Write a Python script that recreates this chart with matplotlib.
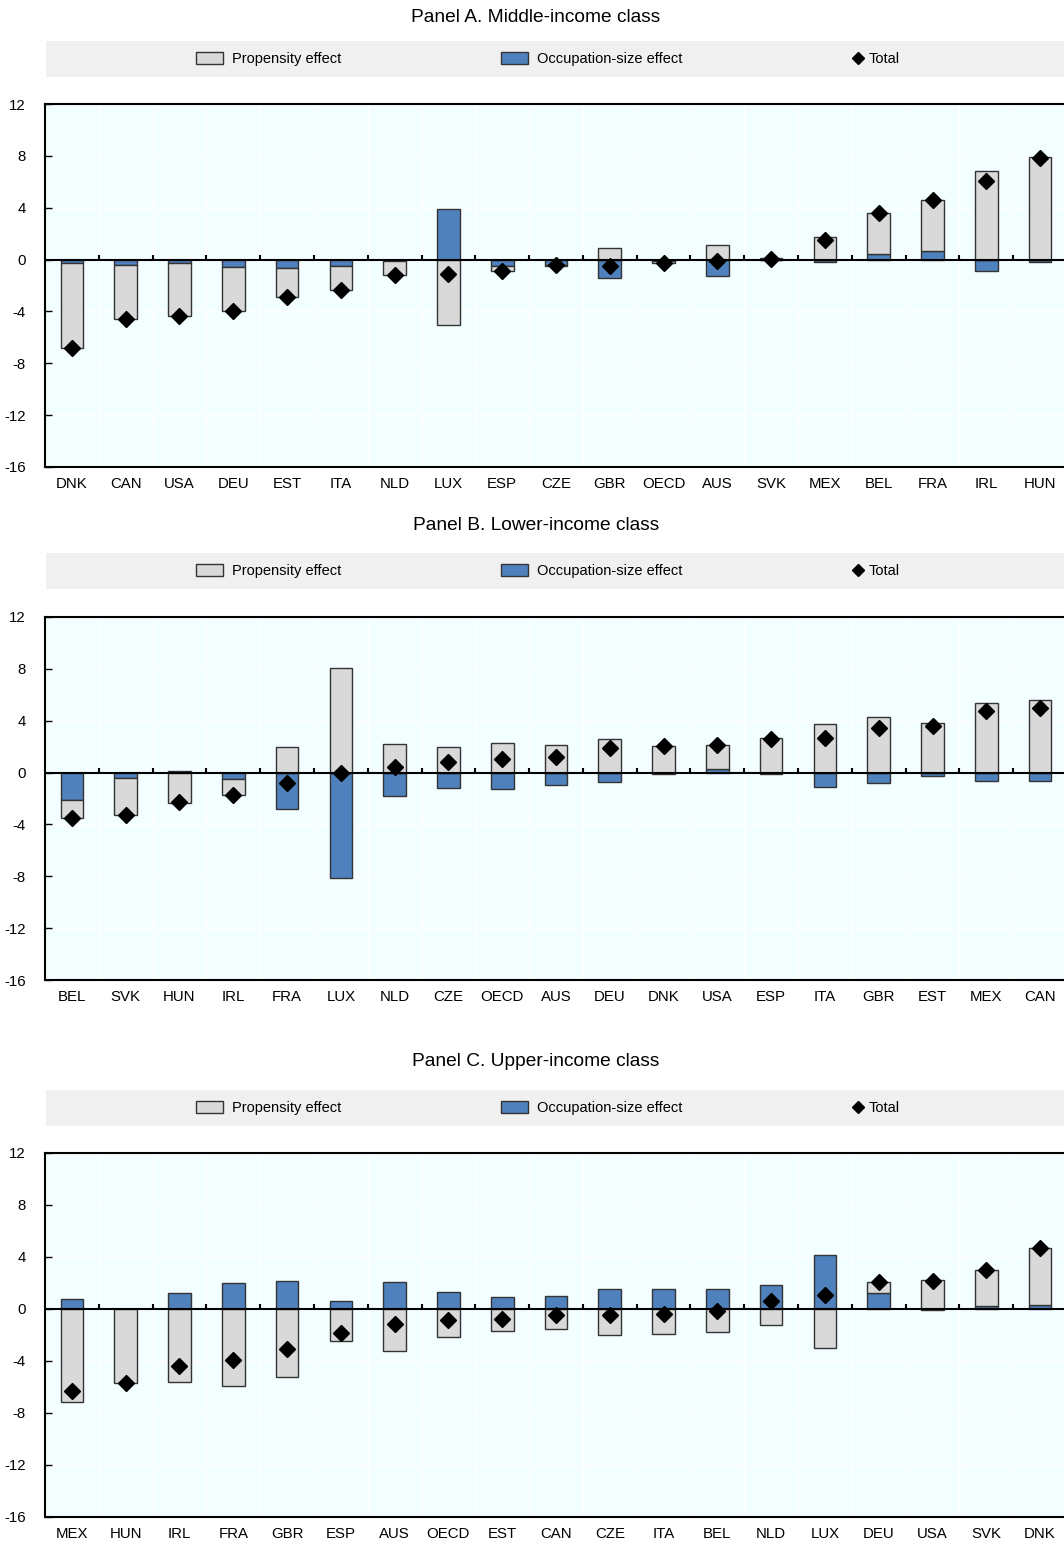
import matplotlib
matplotlib.use("Agg")
import matplotlib.pyplot as plt
from matplotlib.patches import Patch, Rectangle
from matplotlib.lines import Line2D
import numpy as np

plt.rcParams['font.family'] = ['Liberation Sans', 'DejaVu Sans']

# ---------------- Data ----------------
titles = ["Panel A. Middle-income class", "Panel B. Lower-income class", "Panel C. Upper-income class"]

cats_a = ["DNK", "CAN", "USA", "DEU", "EST", "ITA", "NLD", "LUX", "ESP", "CZE",
          "GBR", "OECD", "AUS", "SVK", "MEX", "BEL", "FRA", "IRL", "HUN"]
prop_a = [-6.55, -4.10, -4.03, -3.45, -2.20, -1.88, -1.06, -5.08, -0.35, -0.02,
          0.92, -0.20, 1.10, -0.05, 1.72, 3.10, 3.95, 6.82, 7.90]
occ_a = [-0.25, -0.45, -0.30, -0.55, -0.67, -0.50, -0.12, 3.92, -0.50, -0.45,
         -1.41, -0.08, -1.23, 0.15, -0.18, 0.46, 0.67, -0.85, -0.15]
tot_a = [-6.80, -4.55, -4.33, -4.00, -2.87, -2.38, -1.18, -1.13, -0.85, -0.45,
         -0.46, -0.28, -0.08, 0.08, 1.51, 3.56, 4.62, 6.03, 7.80]

cats_b = ["BEL", "SVK", "HUN", "IRL", "FRA", "LUX", "NLD", "CZE", "OECD", "AUS",
          "DEU", "DNK", "USA", "ESP", "ITA", "GBR", "EST", "MEX", "CAN"]
prop_b = [-1.37, -2.83, -2.34, -1.21, 1.95, 8.07, 2.21, 2.00, 2.26, 2.10,
          2.62, 2.08, 1.82, 2.70, 3.75, 4.27, 3.86, 5.35, 5.63]
occ_b = [-2.10, -0.41, 0.10, -0.49, -2.78, -8.10, -1.80, -1.18, -1.23, -0.95,
         -0.72, -0.10, 0.31, -0.10, -1.10, -0.82, -0.28, -0.67, -0.62]
tot_b = [-3.50, -3.24, -2.24, -1.72, -0.80, -0.05, 0.44, 0.85, 1.03, 1.18,
         1.90, 2.05, 2.13, 2.60, 2.70, 3.44, 3.57, 4.73, 5.01]

cats_c = ["MEX", "HUN", "IRL", "FRA", "GBR", "ESP", "AUS", "OECD", "EST", "CAN",
          "CZE", "ITA", "BEL", "NLD", "LUX", "DEU", "USA", "SVK", "DNK"]
prop_c = [-7.15, -5.69, -5.64, -5.92, -5.26, -2.44, -3.23, -2.13, -1.67, -1.51,
          -2.03, -1.90, -1.74, -1.20, -3.03, 0.87, 2.20, 2.83, 4.39]
occ_c = [0.77, -0.03, 1.26, 2.03, 2.15, 0.62, 2.10, 1.28, 0.92, 1.00,
         1.56, 1.51, 1.56, 1.87, 4.13, 1.20, -0.08, 0.20, 0.30]
tot_c = [-6.33, -5.67, -4.38, -3.90, -3.10, -1.82, -1.15, -0.85, -0.77, -0.49,
         -0.46, -0.38, -0.15, 0.64, 1.10, 2.08, 2.15, 3.03, 4.72]

yticks = [12, 8, 4, 0, -4, -8, -12, -16]
legend_labels = ["Propensity effect", "Occupation-size effect", "Total"]

panels = [(cats_a, prop_a, occ_a, tot_a),
          (cats_b, prop_b, occ_b, tot_b),
          (cats_c, prop_c, occ_c, tot_c)]

# ---------------- Style ----------------
GREY = "#D9D9D9"
BLUE = "#4F81BD"
EDGE = "#333333"
BG = "#F2FEFF"
BAND = "#F0F0F0"
TICK_FS = 10.8
LEG_FS = 10.5
TITLE_FS = 13.8

W, H = 1064, 1545
fig = plt.figure(figsize=(W / 100, H / 100), dpi=100)

# pixel layout
axes_px = [(104, 467), (617, 980), (1153, 1517)]
title_px = [18, 525, 1062]
band_px = [(41, 77), (553, 589), (1090, 1126)]
left_px, right_px = 45, 1067
leg_x_px = [196, 501, 854]

for (cats, prop, occ, tot), (top, bot), ty, (bt, bb), title in zip(
        panels, axes_px, title_px, band_px, titles):
    ax = fig.add_axes([left_px / W, 1 - bot / H, (right_px - left_px) / W, (bot - top) / H])
    ax.set_facecolor(BG)
    x = np.arange(len(cats))
    prop = np.array(prop)
    occ = np.array(occ)
    tot = np.array(tot)

    # stacking: occupation first from zero, propensity stacked on same-sign side
    occ_base = np.zeros_like(occ)
    prop_base = np.where(np.sign(prop) == np.sign(occ), occ, 0.0)

    bw = 0.42
    ax.bar(x, occ, bw, bottom=occ_base, color=BLUE, edgecolor=EDGE, linewidth=1.0, zorder=3)
    ax.bar(x, prop, bw, bottom=prop_base, color=GREY, edgecolor=EDGE, linewidth=1.0, zorder=3)
    ax.plot(x, tot, linestyle="none", marker="D", markersize=8.5, color="black", zorder=5)

    ax.set_xlim(-0.5, len(cats) - 0.5)
    ax.set_ylim(-16, 12)
    ax.set_yticks(yticks)
    ax.set_yticklabels([str(t) for t in yticks])
    ax.set_xticks(x)
    ax.set_xticklabels(cats)
    ax.tick_params(axis="x", length=0, pad=7, labelsize=TICK_FS)
    ax.tick_params(axis="y", direction="in", length=5, width=1, pad=14, labelsize=TICK_FS)

    # white grid
    bounds = np.arange(len(cats) - 1) + 0.5
    for b in bounds:
        ax.axvline(b, color="white", linewidth=1.0, zorder=1)
    for t in yticks:
        ax.axhline(t, color="white", linewidth=1.0, zorder=1)

    # zero line with small boundary ticks
    ax.axhline(0, color="black", linewidth=1.5, zorder=4)
    ax.vlines(bounds, 0, 0.38, color="black", linewidth=1.5, zorder=4)

    for s in ["left", "top", "bottom"]:
        ax.spines[s].set_linewidth(1.5)
        ax.spines[s].set_color("black")
    ax.spines["right"].set_visible(False)

    # title
    fig.text(536 / W, 1 - ty / H, title, ha="center", va="center", fontsize=TITLE_FS)

    # legend band
    fig.patches.append(Rectangle((46 / W, 1 - bb / H), (W - 46) / W, (bb - bt) / H,
                                 transform=fig.transFigure, facecolor=BAND,
                                 edgecolor="none", zorder=0))
    handles = [Patch(facecolor=GREY, edgecolor=EDGE, linewidth=1.0),
               Patch(facecolor=BLUE, edgecolor=EDGE, linewidth=1.0),
               Line2D([], [], linestyle="none", marker="D", markersize=6, color="black")]
    yc = 1 - (bt + bb) / 2 / H
    for i, (h, lab, lx) in enumerate(zip(handles, legend_labels, leg_x_px)):
        if i < 2:
            hl, tp = 1.85, 0.65
        else:
            hl, tp = 0.6, 0.4
        fig.legend([h], [lab], loc="center left", frameon=False,
                   bbox_to_anchor=(lx / W, yc), borderaxespad=0, borderpad=0,
                   fontsize=LEG_FS, handlelength=hl, handleheight=0.85,
                   handletextpad=tp)

fig.savefig("out.png", dpi=100)
